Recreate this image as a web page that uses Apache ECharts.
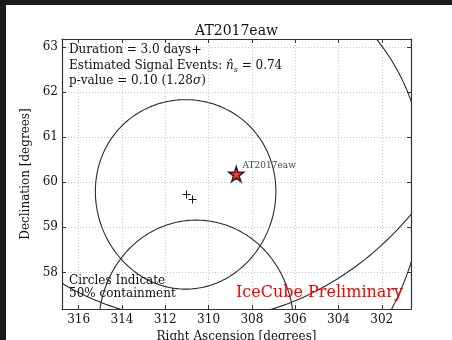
<!DOCTYPE html>
<html><head><meta charset="utf-8">
<script src="https://cdn.jsdelivr.net/npm/echarts@6/dist/echarts.min.js"></script>
<style>
html,body{margin:0;padding:0;background:#1b1b1b;width:452px;height:340px;overflow:hidden}
#c{position:absolute;left:6px;top:5px;width:446px;height:335px;background:#fff}
</style></head><body><div id="c"></div>
<script>
// ---- data ----
const xTicks = [316, 314, 312, 310, 308, 306, 304, 302];
const yTicks = [58, 59, 60, 61, 62, 63];
const xRange = [300.65, 316.77];
const yRange = [57.19, 63.175];
const eventRA     = [311.06, 310.76, 310.58, 310.57];
const eventDec    = [59.73, 59.62, 62.96, 56.68];
const eventRadius = [2.10, 5.40, 6.03, 2.48];   // 50% containment radius (deg)
const sourceName = 'AT2017eaw';
const sourceRA  = [308.72];
const sourceDec = [60.18];

const FONT = '"DejaVu Serif", "Liberation Serif", serif';
const D = Math.PI / 180;
const chart = echarts.init(document.getElementById('c'), null, {renderer: 'canvas'});

function circleItem(params, api) {
  const ra0 = api.value(0), d0 = api.value(1) * D, r = api.value(2) * D;
  const pts = [];
  for (let i = 0; i <= 360; i += 1) {
    const t = i * D;
    const sd = Math.sin(d0) * Math.cos(r) + Math.cos(d0) * Math.sin(r) * Math.cos(t);
    const dec = Math.asin(sd);
    const dra = Math.atan2(Math.sin(t) * Math.sin(r) * Math.cos(d0), Math.cos(r) - Math.sin(d0) * sd);
    pts.push(api.coord([ra0 + dra / D, dec / D]));
  }
  return {type: 'polyline', shape: {points: pts}, style: {stroke: '#2b2b2b', lineWidth: 1.1, fill: null}};
}
function plusItem(params, api) {
  const p = api.coord([api.value(0), api.value(1)]);
  const x = Math.round(p[0]) + 0.5, y = Math.round(p[1]) + 0.5, h = 4;
  return {type: 'group', children: [
    {type: 'line', shape: {x1: x - h, y1: y, x2: x + h, y2: y}, style: {stroke: '#111', lineWidth: 1}},
    {type: 'line', shape: {x1: x, y1: y - h, x2: x, y2: y + h}, style: {stroke: '#111', lineWidth: 1}}
  ]};
}

const gridLine = {show: true, lineStyle: {color: '#c4c4c4', type: [1, 2], width: 1}};
const frame = {show: true, onZero: false, lineStyle: {color: '#333', width: 1.2}};
const tick = {show: true, inside: true, length: 4, lineStyle: {color: '#333'}};
const fmtX = v => xTicks.indexOf(Math.round(v * 1000) / 1000) >= 0 ? String(Math.round(v)) : '';
const fmtY = v => yTicks.indexOf(Math.round(v * 1000) / 1000) >= 0 ? String(Math.round(v)) : '';

const option = {
  animation: false,
  backgroundColor: '#fff',
  grid: {left: 56, top: 34, width: 349, height: 270, containLabel: false, outerBoundsMode: 'none'},
  xAxis: [{
    type: 'value', min: xRange[0], max: xRange[1], inverse: true, splitNumber: 8,
    axisLine: frame, axisTick: tick, splitLine: gridLine,
    axisLabel: {formatter: fmtX, fontFamily: FONT, fontSize: 12, color: '#111', margin: 5, showMinLabel: false, showMaxLabel: false},
    name: 'Right Ascension [degrees]', nameLocation: 'middle', nameGap: 20,
    nameTextStyle: {fontFamily: FONT, fontSize: 12, color: '#111'}
  }, {
    type: 'value', position: 'top', min: xRange[0], max: xRange[1], inverse: true, splitNumber: 8,
    axisLine: frame, axisTick: tick, splitLine: {show: false}, axisLabel: {show: false}
  }],
  yAxis: [{
    type: 'value', min: yRange[0], max: yRange[1], splitNumber: 6,
    axisLine: frame, axisTick: tick, splitLine: gridLine,
    axisLabel: {formatter: fmtY, fontFamily: FONT, fontSize: 12, color: '#111', margin: 4, showMinLabel: false, showMaxLabel: false},
    name: 'Declination [degrees]', nameLocation: 'middle', nameGap: 23, nameRotate: 90,
    nameTextStyle: {fontFamily: FONT, fontSize: 12, color: '#111'}
  }, {
    type: 'value', position: 'right', min: yRange[0], max: yRange[1], splitNumber: 6,
    axisLine: frame, axisTick: tick, splitLine: {show: false}, axisLabel: {show: false}
  }],
  series: [{
    type: 'custom', clip: true, renderItem: circleItem,
    encode: {x: 0, y: 1},
    data: eventRA.map((ra, i) => [ra, eventDec[i], eventRadius[i]]), z: 3
  }, {
    type: 'custom', clip: true, renderItem: plusItem,
    encode: {x: 0, y: 1},
    data: eventRA.map((ra, i) => [ra, eventDec[i]]), z: 4
  }, {
    type: 'scatter', clip: true, z: 5,
    symbol: 'path://M50,0 L61.2,34.5 L97.6,34.5 L68.2,55.9 L79.4,90.5 L50,69.1 L20.6,90.5 L31.8,55.9 L2.4,34.5 L38.8,34.5 Z',
    symbolSize: 15,
    itemStyle: {color: '#ff0000', borderColor: '#000', borderWidth: 1.5},
    label: {show: true, position: 'right', distance: 0, offset: [-2, -8], formatter: sourceName,
      fontFamily: FONT, fontSize: 9, color: '#111'},
    data: sourceRA.map((ra, i) => [ra, sourceDec[i]])
  }],
  graphic: [
    {type: 'text', z: 20, x: 230.5, y: 26, style: {text: 'AT2017eaw', font: '14px ' + FONT, fill: '#111', textAlign: 'center', textVerticalAlign: 'middle'}},
    {type: 'text', z: 20, x: 63, y: 45, style: {text: 'Duration = 3.0 days', font: '12px ' + FONT, fill: '#111', textVerticalAlign: 'middle'}},
    {type: 'text', z: 20, x: 63, y: 61, style: {
      text: 'Estimated Signal Events: {i|n\u0302}{s|s} = 0.74', font: '12px ' + FONT, fill: '#111', textVerticalAlign: 'middle', lineHeight: 16,
      rich: {i: {fontFamily: FONT, fontSize: 12, fontStyle: 'italic', lineHeight: 16},
             s: {fontFamily: FONT, fontSize: 8, fontStyle: 'italic', lineHeight: 9, verticalAlign: 'bottom'}}}},
    {type: 'text', z: 20, x: 63, y: 76, style: {
      text: 'p-value = 0.10 (1.28{i|\u03c3})', font: '12px ' + FONT, fill: '#111', textVerticalAlign: 'middle',
      rich: {i: {fontFamily: FONT, fontSize: 12, fontStyle: 'italic'}}}},
    {type: 'text', z: 20, x: 63, y: 276, style: {text: 'Circles Indicate', font: '12px ' + FONT, fill: '#111', textVerticalAlign: 'middle'}},
    {type: 'text', z: 20, x: 63, y: 288.5, style: {text: '50% containment', font: '12px ' + FONT, fill: '#111', textVerticalAlign: 'middle'}},
    {type: 'text', z: 20, x: 230, y: 288, style: {text: 'IceCube Preliminary', font: '16px ' + FONT, fill: '#ff0000', textVerticalAlign: 'middle'}}
  ]
};
chart.setOption(option);
</script></body></html>
